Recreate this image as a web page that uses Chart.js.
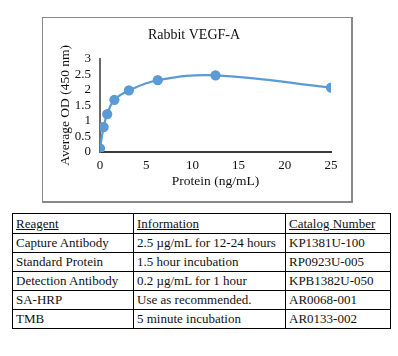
<!DOCTYPE html>
<html>
<head>
<meta charset="utf-8">
<script src="https://cdn.jsdelivr.net/npm/chart.js@4"></script>
<style>
  html, body { margin: 0; padding: 0; background: #fff; }
  body { width: 398px; height: 356px; position: relative; overflow: hidden; font-family: "Liberation Serif", serif; }
  #box { position: absolute; left: 42px; top: 17px; width: 308px; height: 183px; border-top: 1px solid #888; border-left: 1px solid #888; border-right: 2px solid #888; border-bottom: 2px solid #888; }
  #wrap { position: absolute; left: 0; top: 0; width: 308px; height: 183px; }
  table { position: absolute; left: 12px; top: 213px; width: 378px; border-collapse: collapse; table-layout: fixed; font-size: 13px; color: #111; }
  td { border: 1px solid #000; padding: 0 3px; height: 18px; line-height: 16px; white-space: nowrap; overflow: hidden; }
  tr.h td { text-decoration: underline; height: 19px; }
</style>
</head>
<body>
<div id="box"><div id="wrap"><canvas id="c"></canvas></div></div>
<table id="tbl"><colgroup><col style="width:121px"><col style="width:152px"><col style="width:105px"></colgroup><tbody id="tb"></tbody></table>
<script>
const chartTitle = "Rabbit VEGF-A";
const xTitle = "Protein (ng/mL)";
const yTitle = "Average OD (450 nm)";
const concentrations = [0, 0.39, 0.78, 1.56, 3.125, 6.25, 12.5, 25];
const odValues = [0.12, 0.80, 1.22, 1.68, 1.98, 2.31, 2.47, 2.07];
const xTicks = [0, 5, 10, 15, 20, 25];
const yTicks = [0, 0.5, 1, 1.5, 2, 2.5, 3];

const tableHeader = ["Reagent", "Information", "Catalog Number"];
const reagents = ["Capture Antibody", "Standard Protein", "Detection Antibody", "SA-HRP", "TMB"];
const information = ["2.5 µg/mL for 12-24 hours", "1.5 hour incubation", "0.2 µg/mL for 1 hour", "Use as recommended.", "5 minute incubation"];
const catalogNumbers = ["KP1381U-100", "RP0923U-005", "KPB1382U-050", "AR0068-001", "AR0133-002"];

// table
const tb = document.getElementById('tb');
let html = '<tr class="h">' + tableHeader.map(t => '<td>' + t + '</td>').join('') + '</tr>';
for (let i = 0; i < reagents.length; i++) {
  html += '<tr><td>' + reagents[i] + '</td><td>' + information[i] + '</td><td>' + catalogNumbers[i] + '</td></tr>';
}
tb.innerHTML = html;

const font = "'Liberation Serif', serif";
const pts = concentrations.map((x, i) => ({ x: x, y: odValues[i] }));

new Chart(document.getElementById('c'), {
  type: 'scatter',
  data: {
    datasets: [{
      data: pts,
      showLine: true,
      borderColor: '#5b9bd5',
      backgroundColor: '#5b9bd5',
      borderWidth: 2.25,
      pointRadius: 4,
      pointHoverRadius: 4,
      tension: 0.4
    }]
  },
  options: {
    responsive: true,
    maintainAspectRatio: false,
    animation: false,
    events: [],
    layout: { padding: { left: 14, right: 20, top: 0, bottom: 11 } },
    plugins: {
      legend: { display: false },
      tooltip: { enabled: false },
      title: {
        display: true,
        text: chartTitle,
        color: '#111',
        font: { family: font, size: 14, weight: 'normal' },
        padding: { top: 9, bottom: 15 }
      }
    },
    scales: {
      x: {
        type: 'linear',
        min: 0, max: 25,
        afterBuildTicks: s => { s.ticks = xTicks.map(v => ({ value: v })); },
        grid: { display: false, drawTicks: false },
        border: { display: true, color: '#3a3a3a', width: 2 },
        ticks: { color: '#111', font: { family: font, size: 13 }, padding: 6, autoSkip: false, maxRotation: 0, callback: v => String(v) },
        title: { display: true, text: xTitle, color: '#111', font: { family: font, size: 13.5 }, padding: { top: 0, bottom: 0 } },
        afterFit: s => { s.height = 38; }
      },
      y: {
        type: 'linear',
        min: 0, max: 3,
        afterBuildTicks: s => { s.ticks = yTicks.map(v => ({ value: v })); },
        grid: { display: false, drawTicks: false },
        border: { display: true, color: '#6a6a6a', width: 2 },
        ticks: { color: '#111', font: { family: font, size: 13 }, padding: 9, autoSkip: false, callback: v => String(v) },
        title: { display: true, text: yTitle, color: '#111', font: { family: font, size: 13.5 }, padding: { top: 0, bottom: 0 } },
        afterFit: s => { s.width = 43; }
      }
    }
  }
});
</script>
</body>
</html>
